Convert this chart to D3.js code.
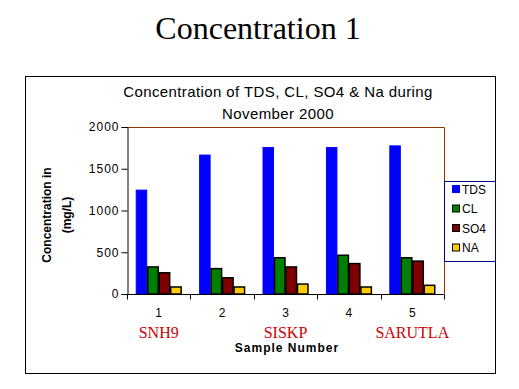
<!DOCTYPE html>
<html>
<head>
<meta charset="utf-8">
<script src="https://cdn.jsdelivr.net/npm/d3@7"></script>
<style>
  body { margin: 0; background: #fff; }
  svg text { font-family: "Liberation Sans", Arial, sans-serif; }
</style>
</head>
<body>
<div id="chart"></div>
<script>
var samples = ['1', '2', '3', '4', '5'];
var sites = ['SNH9', '', 'SISKP', '', 'SARUTLA'];
var seriesNames = ['TDS', 'CL', 'SO4', 'NA'];
var tds = [1250, 1670, 1760, 1760, 1780];
var cl = [330, 310, 440, 470, 440];
var so4 = [260, 200, 330, 370, 400];
var na = [90, 90, 125, 90, 110];
var yTicks = [0, 500, 1000, 1500, 2000];

var colors = ['#0000ff', '#008000', '#800000', '#ffcc00'];
var values = [tds, cl, so4, na];

var width = 519, height = 389;
var plot = { left: 127, right: 444, top: 127, bottom: 294 };

var svg = d3.select('#chart').append('svg')
  .attr('width', width).attr('height', height);

// page title
svg.append('text')
  .attr('x', 258).attr('y', 39)
  .attr('text-anchor', 'middle')
  .style('font-family', '"Liberation Serif", "Times New Roman", serif')
  .style('font-size', '32px')
  .text('Concentration 1');

// chart frame
svg.append('rect')
  .attr('x', 25.5).attr('y', 76.5)
  .attr('width', 470).attr('height', 297)
  .attr('fill', 'none').attr('stroke', '#000');

var x = d3.scaleBand().domain(samples).range([plot.left, plot.right]);
var xInner = d3.scaleBand().domain(seriesNames).range([0, x.bandwidth()]).paddingOuter(0.76);
var y = d3.scaleLinear().domain([0, 2000]).range([plot.bottom, plot.top]);

// chart title
var title = svg.append('text')
  .attr('x', 278).attr('text-anchor', 'middle')
  .style('font-size', '15px').style('letter-spacing', '0.4px');
title.append('tspan').attr('x', 278).attr('y', 97).text('Concentration of TDS, CL, SO4 & Na during');
title.append('tspan').attr('x', 278).attr('y', 119).text('November 2000');

// top and right border of plot area
svg.append('path')
  .attr('d', 'M' + plot.left + ',' + (plot.top + 0.5) + 'H' + (plot.right + 0.5) + 'V' + plot.bottom)
  .attr('fill', 'none').attr('stroke', '#993300');

// bars
var groups = svg.selectAll('g.sample')
  .data(samples)
  .enter().append('g')
  .attr('class', 'sample')
  .attr('transform', function(d) { return 'translate(' + x(d) + ',0)'; });

groups.selectAll('rect')
  .data(function(d, i) {
    return seriesNames.map(function(s, j) { return { s: s, j: j, v: values[j][i] }; });
  })
  .enter().append('rect')
  .attr('x', function(d) { return xInner(d.s) + 0.5; })
  .attr('y', function(d) { return y(d.v) + 0.5; })
  .attr('width', function(d) { return xInner.bandwidth() - 1; })
  .attr('height', function(d) { return plot.bottom - y(d.v) - 0.5; })
  .attr('fill', function(d) { return colors[d.j]; })
  .attr('stroke', function(d) { return d.j === 0 ? colors[0] : '#000'; })
  .attr('stroke-width', function(d) { return d.j === 0 ? 1 : 1.5; });

// y axis
var yAxis = svg.append('g')
  .attr('transform', 'translate(' + (plot.left + 0.5) + ',0)')
  .call(d3.axisLeft(y).tickValues(yTicks).tickSize(6).tickPadding(2).tickFormat(d3.format('d')));
yAxis.select('.domain').attr('stroke', '#000');
yAxis.selectAll('text').style('font-size', '12px').style('letter-spacing', '1px')
  .style('font-family', '"Liberation Sans", Arial, sans-serif').attr('fill', '#000');

// x axis
var xAxis = svg.append('g')
  .attr('transform', 'translate(0,' + (plot.bottom + 0.5) + ')')
  .call(d3.axisBottom(x).tickSize(0).tickPadding(14));
xAxis.select('.domain').attr('d', 'M' + plot.left + ',0H' + plot.right);
xAxis.selectAll('text').style('font-size', '12px')
  .style('font-family', '"Liberation Sans", Arial, sans-serif').attr('fill', '#000');
xAxis.selectAll('line.sep')
  .data(samples.concat(['end']))
  .enter().append('line')
  .attr('class', 'sep')
  .attr('x1', function(d, i) { return Math.round(plot.left + i * x.step()) + 0.5; })
  .attr('x2', function(d, i) { return Math.round(plot.left + i * x.step()) + 0.5; })
  .attr('y1', 0).attr('y2', 5)
  .attr('stroke', '#000');

// site names
svg.selectAll('text.site')
  .data(sites)
  .enter().append('text')
  .attr('class', 'site')
  .attr('x', function(d, i) { return x(samples[i]) + x.bandwidth() / 2; })
  .attr('y', 338)
  .attr('text-anchor', 'middle')
  .attr('fill', '#cc0000')
  .style('font-family', '"Liberation Serif", "Times New Roman", serif')
  .style('font-size', '16px')
  .text(function(d) { return d; });

// axis titles
svg.append('text')
  .attr('x', 287).attr('y', 352)
  .attr('text-anchor', 'middle')
  .style('font-size', '12px').style('font-weight', 'bold').style('letter-spacing', '1px')
  .text('Sample Number');

var yTitle = svg.append('text')
  .attr('transform', 'translate(0,215) rotate(-90)')
  .attr('text-anchor', 'middle')
  .style('font-size', '12px').style('font-weight', 'bold');
yTitle.append('tspan').attr('x', 0).attr('y', 51).text('Concentration in');
yTitle.append('tspan').attr('x', 0).attr('y', 71).text('(mg/L)');

// legend
var legend = svg.append('g').attr('transform', 'translate(444,181)');
legend.append('rect')
  .attr('x', 0.5).attr('y', 0.5).attr('width', 51).attr('height', 80)
  .attr('fill', '#fff').attr('stroke', '#000080');
var items = legend.selectAll('g.item')
  .data(seriesNames)
  .enter().append('g')
  .attr('class', 'item')
  .attr('transform', function(d, i) { return 'translate(8,' + (8 + i * 19.5) + ')'; });
items.append('rect')
  .attr('x', 0.5).attr('y', -3.5).attr('width', 7).attr('height', 7)
  .attr('fill', function(d, i) { return colors[i]; })
  .attr('stroke', function(d, i) { return i === 0 ? colors[0] : '#000'; });
items.append('text')
  .attr('x', 10).attr('y', 4.5)
  .style('font-size', '12px')
  .text(function(d) { return d; });
</script>
</body>
</html>
